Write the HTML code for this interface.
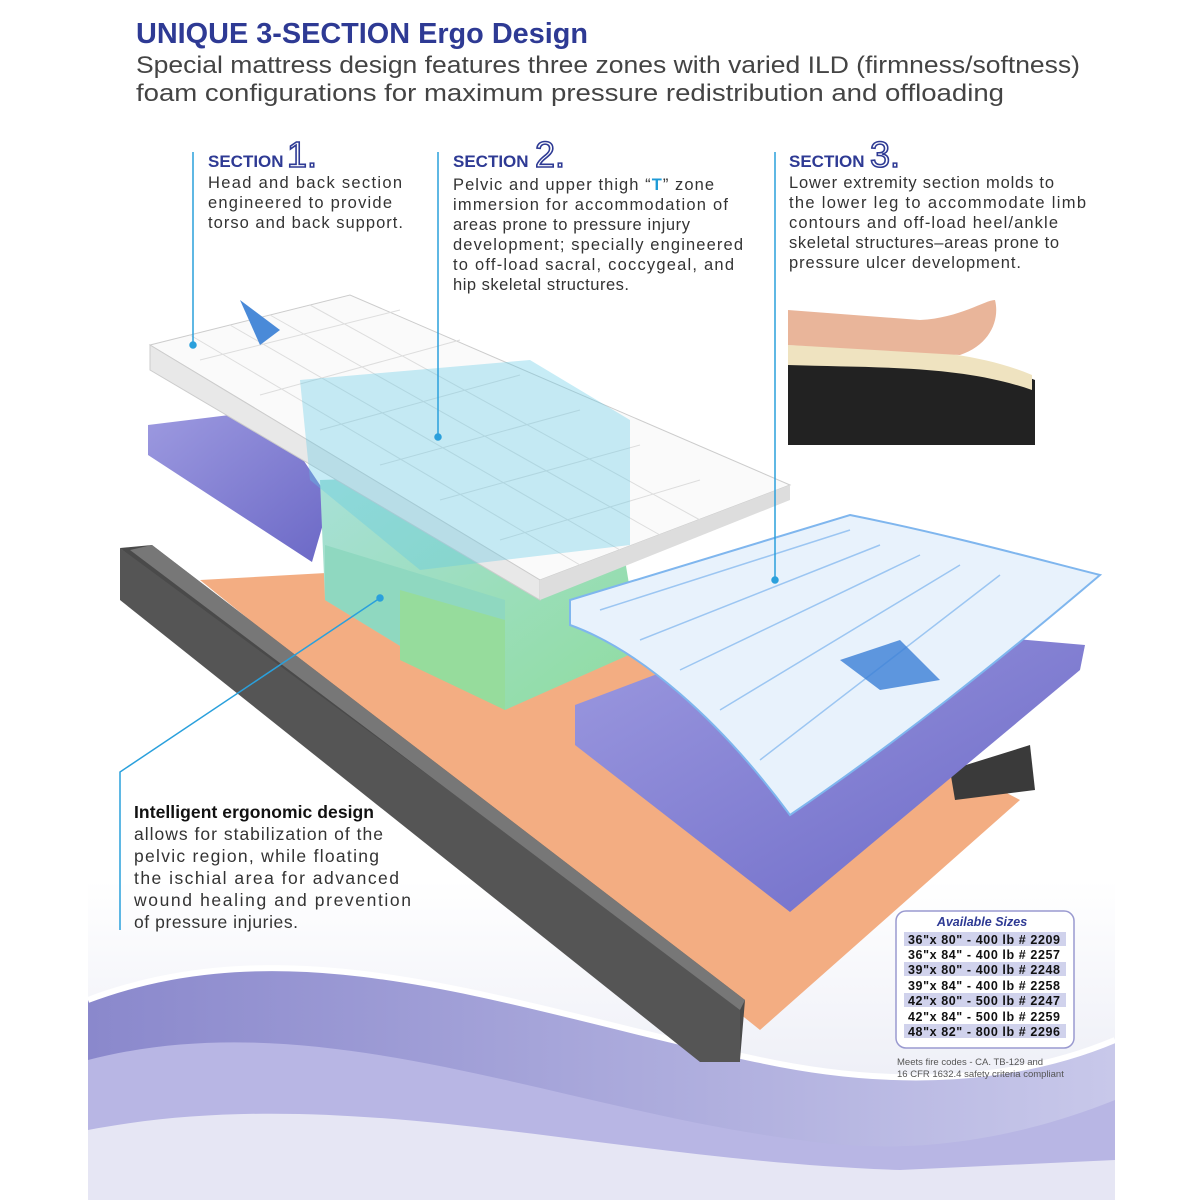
<!DOCTYPE html><html><head><meta charset="utf-8"><style>
body{margin:0;background:#fff}
svg{display:block}
text{font-family:"Liberation Sans",sans-serif}
.b{fill:#333;font-size:16.5px}
.h{fill:#2e3a94;font-weight:bold;font-size:17px}
.n{fill:none;stroke:#2e3a94;stroke-width:1.6;font-size:36px;font-weight:normal}
.t{font-size:12.5px;font-weight:bold;fill:#111}
</style></head><body>
<svg width="1200" height="1200" viewBox="0 0 1200 1200" xmlns="http://www.w3.org/2000/svg">
<defs>
<linearGradient id="bg" x1="0" y1="0" x2="0" y2="1"><stop offset="0" stop-color="#fff"/><stop offset="1" stop-color="#e4e6f2"/></linearGradient>
<linearGradient id="wv" x1="0" y1="0" x2="1" y2="0"><stop offset="0" stop-color="#8a88cc"/><stop offset="1" stop-color="#c8c8ea"/></linearGradient>
<linearGradient id="grn" x1="0" y1="0" x2="1" y2="1"><stop offset="0" stop-color="#a8e0d8"/><stop offset="1" stop-color="#8fdca0"/></linearGradient>
<linearGradient id="pur" x1="0" y1="0" x2="1" y2="1"><stop offset="0" stop-color="#9d9ae0"/><stop offset="1" stop-color="#6b68c6"/></linearGradient>
</defs>
<rect x="88" y="880" width="1027" height="320" fill="url(#bg)"/>
<path d="M88 1000 C300 920 520 1010 760 1060 C900 1090 1020 1080 1115 1040 L1115 1200 L88 1200Z" fill="url(#wv)"/>
<path d="M88 1060 C320 1000 560 1110 800 1140 C930 1160 1040 1130 1115 1100 L1115 1200 L88 1200Z" fill="#b8b6e4"/>
<path d="M88 1000 C300 920 520 1010 760 1060 C900 1090 1020 1080 1115 1040" fill="none" stroke="#fff" stroke-width="6"/>
<path d="M88 1130 C350 1080 600 1160 900 1170 L1115 1160 L1115 1200 L88 1200Z" fill="#e6e6f4"/>

<text x="136" y="43" fill="#2e3a94" font-size="29" font-weight="bold" textLength="452" lengthAdjust="spacingAndGlyphs">UNIQUE 3-SECTION Ergo Design</text>
<text x="136" y="73" fill="#444" font-size="24" textLength="944" lengthAdjust="spacingAndGlyphs">Special mattress design features three zones with varied ILD (firmness/softness)</text>
<text x="136" y="101" fill="#444" font-size="24" textLength="868" lengthAdjust="spacingAndGlyphs">foam configurations for maximum pressure redistribution and offloading</text>

<text x="208" y="167" class="h">SECTION</text><text x="287" y="167" class="h n">1.</text>
<text class="b" x="208" y="188" textLength="194">Head and back section</text>
<text class="b" x="208" y="208" textLength="184">engineered to provide</text>
<text class="b" x="208" y="228" textLength="195">torso and back support.</text>
<text x="453" y="167" class="h">SECTION</text><text x="535" y="167" class="h n">2.</text>
<text class="b" x="453" y="190" textLength="261">Pelvic and upper thigh “<tspan fill="#1e9ad6" font-weight="bold">T</tspan>” zone</text>
<text class="b" x="453" y="210" textLength="275">immersion for accommodation of</text>
<text class="b" x="453" y="230" textLength="237">areas prone to pressure injury</text>
<text class="b" x="453" y="250" textLength="290">development; specially engineered</text>
<text class="b" x="453" y="270" textLength="281">to off-load sacral, coccygeal, and</text>
<text class="b" x="453" y="290" textLength="176">hip skeletal structures.</text>
<text x="789" y="167" class="h">SECTION</text><text x="870" y="167" class="h n">3.</text>
<text class="b" x="789" y="188" textLength="265">Lower extremity section molds to</text>
<text class="b" x="789" y="208" textLength="297">the lower leg to accommodate limb</text>
<text class="b" x="789" y="228" textLength="269">contours and off-load heel/ankle</text>
<text class="b" x="789" y="248" textLength="270">skeletal structures–areas prone to</text>
<text class="b" x="789" y="268" textLength="232">pressure ulcer development.</text>

<!-- photo inset -->
<rect x="788" y="300" width="247" height="145" fill="#fff"/>
<path d="M788 355 C880 360 960 350 1035 380 L1035 445 L788 445Z" fill="#222"/>
<path d="M788 345 C880 350 960 345 1032 375 L1032 390 C960 365 880 368 788 365Z" fill="#efe3c0"/>
<path d="M788 310 L920 320 C960 318 985 300 995 300 C1000 320 990 345 960 355 L788 345Z" fill="#e9b59a"/>

<polygon points="200,580 560,560 1020,800 760,1030" fill="#f3ad82"/>
<polygon points="950,770 1030,745 1035,790 955,800" fill="#3a3a3a"/>
<polygon points="120,548 152,545 745,1000 740,1060" fill="#4a4a4a"/>
<polygon points="120,548 740,1005 740,1062 700,1062 120,600" fill="#555"/>
<polygon points="152,545 745,1000 740,1010 130,550" fill="#777"/>

<polygon points="148,425 270,410 330,500 312,562 148,455" fill="url(#pur)"/>
<polygon points="320,480 610,470 640,650 505,710 325,600" fill="url(#grn)"/>
<polygon points="325,545 505,600 505,710 325,600" fill="#8fd8c0"/>
<polygon points="400,590 505,620 505,710 400,660" fill="#96dc9c"/>
<polygon points="575,705 800,620 1085,645 1080,670 790,912 575,745" fill="url(#pur)"/>
<path d="M570,600 L850,515 C950,535 1040,560 1100,575 C1000,660 900,740 790,815 C720,720 640,650 570,625Z" fill="#e8f2fc" stroke="#7fb6ee" stroke-width="2"/>
<path d="M600,610 L850,530 M640,640 L880,545 M680,670 L920,555 M720,710 L960,565 M760,760 L1000,575" stroke="#9cc6f2" stroke-width="1.5"/>
<path d="M840 660 L900 640 L940 680 L880 690Z" fill="#3a7ed6" opacity=".8"/>
<polygon points="150,345 350,295 790,485 540,580" fill="#fafafa" stroke="#ccc"/>
<polygon points="150,345 540,580 540,600 150,370" fill="#e8e8e8" stroke="#ccc"/>
<polygon points="540,580 790,485 790,500 540,600" fill="#ddd"/>
<g stroke="#ddd" stroke-width="1">
<path d="M190,335 L580,565 M230,325 L620,550 M270,315 L660,535 M310,305 L700,520 M200,360 L400,310 M260,395 L460,340 M320,430 L520,375 M380,465 L580,410 M440,500 L640,445 M500,540 L700,480"/>
</g>
<polygon points="300,380 530,360 630,420 630,545 420,570 310,480" fill="#5ec8e6" opacity=".35"/>
<path d="M240 300 L280 330 L260 345Z" fill="#4a8ad8"/>

<g stroke="#2aa0dc" stroke-width="1.5" fill="#2aa0dc">
<line x1="193" y1="152" x2="193" y2="345"/><circle cx="193" cy="345" r="3"/>
<line x1="438" y1="152" x2="438" y2="437"/><circle cx="438" cy="437" r="3"/>
<line x1="775" y1="152" x2="775" y2="580"/><circle cx="775" cy="580" r="3"/>
<polyline points="380,598 120,772 120,930" fill="none"/><circle cx="380" cy="598" r="3"/>
</g>
<text x="134" y="818" fill="#111" font-size="17.5" font-weight="bold" textLength="240">Intelligent ergonomic design</text>
<text x="134" y="840" fill="#333" font-size="17.5" textLength="249">allows for stabilization of the</text>
<text x="134" y="862" fill="#333" font-size="17.5" textLength="245">pelvic region, while floating</text>
<text x="134" y="884" fill="#333" font-size="17.5" textLength="265">the ischial area for advanced</text>
<text x="134" y="906" fill="#333" font-size="17.5" textLength="277">wound healing and prevention</text>
<text x="134" y="928" fill="#333" font-size="17.5" textLength="164">of pressure injuries.</text>

<rect x="896" y="911" width="178" height="137" rx="10" fill="#fff" stroke="#9a9ad0" stroke-width="1.5"/>
<text x="982" y="926" text-anchor="middle" fill="#2e3a94" font-size="12.5" font-weight="bold" font-style="italic">Available Sizes</text>
<g>
<rect x="904" y="932" width="162" height="14" fill="#d0d2ec"/>
<rect x="904" y="962" width="162" height="14" fill="#d0d2ec"/>
<rect x="904" y="993" width="162" height="14" fill="#d0d2ec"/>
<rect x="904" y="1024" width="162" height="14" fill="#d0d2ec"/>
</g>
<text class="t" x="908" y="944" textLength="152">36"x 80" - 400 lb  # 2209</text>
<text class="t" x="908" y="959" textLength="152">36"x 84" - 400 lb  # 2257</text>
<text class="t" x="908" y="974" textLength="152">39"x 80" - 400 lb  # 2248</text>
<text class="t" x="908" y="990" textLength="152">39"x 84" - 400 lb  # 2258</text>
<text class="t" x="908" y="1005" textLength="152">42"x 80" - 500 lb  # 2247</text>
<text class="t" x="908" y="1021" textLength="152">42"x 84" - 500 lb  # 2259</text>
<text class="t" x="908" y="1036" textLength="152">48"x 82" - 800 lb  # 2296</text>
<text x="897" y="1065" fill="#555" font-size="9.5">Meets fire codes - CA. TB-129 and</text>
<text x="897" y="1077" fill="#555" font-size="9.5">16 CFR 1632.4 safety criteria compliant</text>
</svg>
</body></html>
